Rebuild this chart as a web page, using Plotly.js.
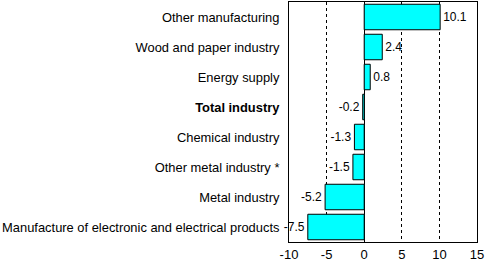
<!DOCTYPE html>
<html><head><meta charset="utf-8">
<script src="https://cdn.plot.ly/plotly-3.0.1.min.js"></script>
<style>html,body{margin:0;padding:0;background:#fff;}#chart{width:485px;height:261px;}</style>
</head><body><div id="chart"></div>
<script>
const categories = ["Other manufacturing","Wood and paper industry","Energy supply","Total industry","Chemical industry","Other metal industry *","Metal industry","Manufacture of electronic and electrical products"];
const values = [10.1, 2.4, 0.8, -0.2, -1.3, -1.5, -5.2, -7.5];
const valueLabels = ["10.1","2.4","0.8","-0.2","-1.3","-1.5","-5.2","-7.5"];
const boldCategories = ["Total industry"];
const xTicks = [-10,-5,0,5,10,15];

const tickText = categories.map(c => boldCategories.includes(c) ? "<b>"+c+"</b>" : c);

const trace = {
  type: "bar", orientation: "h",
  y: categories, x: values,
  text: valueLabels, textposition: "outside", cliponaxis: false, constraintext: "none",
  textfont: {family: "Liberation Sans, Arial, sans-serif", size: 12, color: "#000"},
  marker: {color: "#00FFFF", line: {color: "#000", width: 1}},
  width: 0.85, hoverinfo: "none"
};
const layout = {
  width: 485, height: 261,
  margin: {l: 289, r: 8, t: 2, b: 19, pad: 0},
  paper_bgcolor: "#fff", plot_bgcolor: "#fff",
  showlegend: false,
  font: {family: "Liberation Sans, Arial, sans-serif", size: 12, color: "#000"},
  xaxis: {
    range: [-10, 15], tickvals: xTicks, ticktext: xTicks.map(String),
    showgrid: true, gridcolor: "#000", gridwidth: 1, griddash: "3px,3px",
    zeroline: true, zerolinecolor: "#000", zerolinewidth: 1,
    showline: true, linecolor: "#000", linewidth: 1, mirror: true,
    ticks: "", tickfont: {size: 13}, fixedrange: true
  },
  yaxis: {
    type: "category", autorange: "reversed",
    tickvals: categories, ticktext: tickText,
    showgrid: false, zeroline: false,
    showline: true, linecolor: "#000", linewidth: 1, mirror: true,
    ticks: "", ticklabelstandoff: 6, tickfont: {size: 12.9}, fixedrange: true
  }
};
Plotly.newPlot("chart", [trace], layout, {staticPlot: true, displayModeBar: false});
</script></body></html>
